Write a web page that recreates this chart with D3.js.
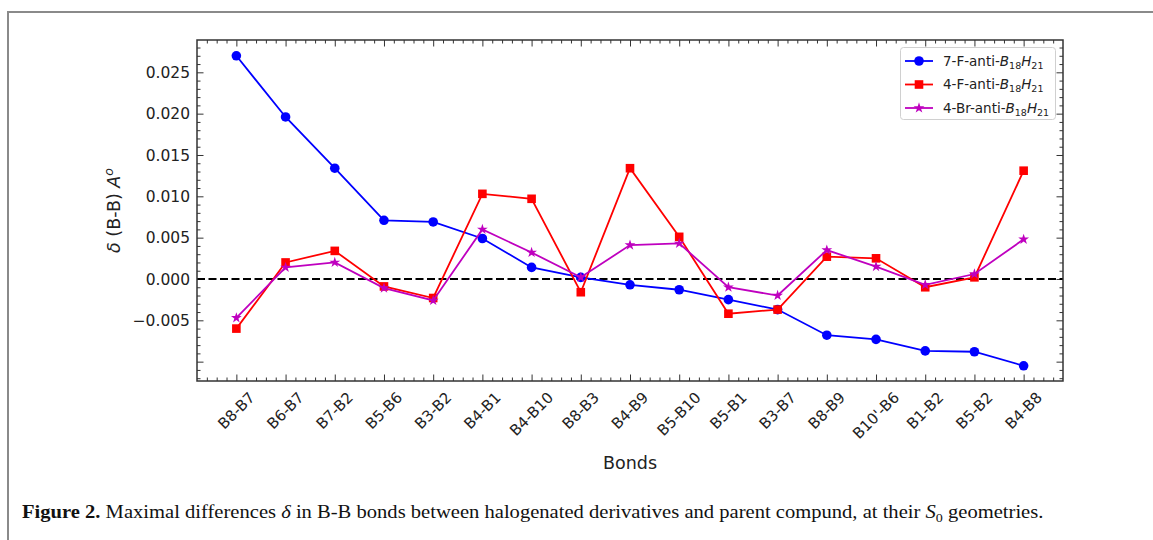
<!DOCTYPE html>
<html>
<head>
<meta charset="utf-8">
<script src="https://cdn.jsdelivr.net/npm/d3@7/dist/d3.min.js"></script>
<style>
  html, body { margin: 0; padding: 0; background: #fff; }
  svg { display: block; }
  .tick-label { font-family: "DejaVu Sans", sans-serif; fill: #222; }
</style>
</head>
<body>
<svg id="chart" width="1153" height="540"></svg>
<script>
// Bonds along the x axis
const bonds = ["B8-B7", "B6-B7", "B7-B2", "B5-B6", "B3-B2", "B4-B1", "B4-B10", "B8-B3",
  "B4-B9", "B5-B10", "B5-B1", "B3-B7", "B8-B9", "B10'-B6", "B1-B2", "B5-B2", "B4-B8"];

// δ(B-B) differences, Å
const f7Values = [0.0270, 0.0196, 0.0134, 0.0071, 0.0069, 0.0049, 0.0014, 0.0002,
  -0.0007, -0.0013, -0.0025, -0.0037, -0.0068, -0.0073, -0.0087, -0.0088, -0.0105];
const f4Values = [-0.0060, 0.0020, 0.0034, -0.0009, -0.0023, 0.0103, 0.0097, -0.0016,
  0.0134, 0.0051, -0.0042, -0.0037, 0.0027, 0.0025, -0.0010, 0.0002, 0.0131];
const br4Values = [-0.0047, 0.0014, 0.0020, -0.0011, -0.0026, 0.0060, 0.0032, 0.0002,
  0.0041, 0.0043, -0.0010, -0.0020, 0.0035, 0.0015, -0.0007, 0.0006, 0.0048];

// y tick values and their labels (the lowest major tick carries no label)
const yTicks = [-0.010, -0.005, 0.000, 0.005, 0.010, 0.015, 0.020, 0.025];
const yTickLabels = ["", "\u22120.005", "0.000", "0.005", "0.010", "0.015", "0.020", "0.025"];

const seriesNames = ["7-F-anti-", "4-F-anti-", "4-Br-anti-"];

const series = [
  { name: seriesNames[0], values: f7Values, color: "#0000ff", marker: "circle" },
  { name: seriesNames[1], values: f4Values, color: "#ff0000", marker: "square" },
  { name: seriesNames[2], values: br4Values, color: "#bf00bf", marker: "star" }
];

const svg = d3.select("#chart");
const plot = { left: 197, right: 1063, top: 40, bottom: 381 };

// outer figure frame (top and left edges)
svg.append("line").attr("x1", 8).attr("y1", 12).attr("x2", 1153).attr("y2", 12)
  .attr("stroke", "#8a8a8a").attr("stroke-width", 2);
svg.append("line").attr("x1", 8).attr("y1", 11).attr("x2", 8).attr("y2", 540)
  .attr("stroke", "#8a8a8a").attr("stroke-width", 2);

const x = d3.scaleLinear().domain([-0.8, bonds.length - 1 + 0.8]).range([plot.left, plot.right]);
const y = d3.scaleLinear().domain([-0.01234, 0.02891]).range([plot.bottom, plot.top]);

const g = svg.append("g");

// minor / major ticks pointing inward on all four sides
const xMinor = d3.range(-0.8, bonds.length - 1 + 0.8 + 1e-9, 0.2)
  .map(v => Math.round(v * 10) / 10)
  .filter(v => Math.abs(v - Math.round(v)) > 1e-6 && v > -0.8 + 1e-6 && v < 16.8 - 1e-6);
const yMinor = d3.range(-0.012, 0.0289, 0.001).map(v => Math.round(v * 1000) / 1000)
  .filter(v => Math.abs(v * 200 - Math.round(v * 200)) > 1e-6);

const tickColor = "#333";
const majorLen = 6.5, minorLen = 3.5;

function xTickAxis(values, len) {
  g.append("g").attr("transform", `translate(0,${plot.bottom})`)
    .call(d3.axisBottom(x).tickValues(values).tickSizeInner(-len).tickSizeOuter(0).tickFormat(""))
    .call(s => s.select(".domain").remove())
    .call(s => s.selectAll("line").attr("stroke", tickColor).attr("stroke-width", 1));
  g.append("g").attr("transform", `translate(0,${plot.top})`)
    .call(d3.axisTop(x).tickValues(values).tickSizeInner(-len).tickSizeOuter(0).tickFormat(""))
    .call(s => s.select(".domain").remove())
    .call(s => s.selectAll("line").attr("stroke", tickColor).attr("stroke-width", 1));
}
function yTickAxis(values, len) {
  g.append("g").attr("transform", `translate(${plot.left},0)`)
    .call(d3.axisLeft(y).tickValues(values).tickSizeInner(-len).tickSizeOuter(0).tickFormat(""))
    .call(s => s.select(".domain").remove())
    .call(s => s.selectAll("line").attr("stroke", tickColor).attr("stroke-width", 1));
  g.append("g").attr("transform", `translate(${plot.right},0)`)
    .call(d3.axisRight(y).tickValues(values).tickSizeInner(-len).tickSizeOuter(0).tickFormat(""))
    .call(s => s.select(".domain").remove())
    .call(s => s.selectAll("line").attr("stroke", tickColor).attr("stroke-width", 1));
}
xTickAxis(xMinor, minorLen);
xTickAxis(d3.range(bonds.length), majorLen);
yTickAxis(yMinor, minorLen);
yTickAxis(yTicks, majorLen);

// y tick labels
g.selectAll(".ylab").data(yTicks).join("text")
  .attr("class", "tick-label")
  .attr("x", plot.left - 7)
  .attr("y", d => y(d))
  .attr("dy", "0.36em")
  .attr("text-anchor", "end")
  .attr("font-size", 15.5)
  .text((d, i) => yTickLabels[i]);

// x tick labels rotated 45°, rotated box centred on the tick, hanging below the axis
const xFont = 15;
const xl = g.selectAll(".xlab").data(bonds).join("text")
  .attr("class", "tick-label")
  .attr("font-size", xFont)
  .attr("text-anchor", "middle")
  .attr("dominant-baseline", "central")
  .text(d => d);
xl.each(function (d, i) {
  const w = this.getComputedTextLength();
  const h = xFont * 0.75;
  const half = (w + h) / (2 * Math.SQRT2);
  d3.select(this).attr("transform",
    `translate(${x(i)},${plot.bottom + 10 + half}) rotate(-45)`);
});

// axis titles
svg.append("text")
  .attr("x", (plot.left + plot.right) / 2).attr("y", 469)
  .attr("text-anchor", "middle")
  .attr("font-family", "DejaVu Sans, sans-serif").attr("font-size", 17.5).attr("fill", "#222")
  .text("Bonds");

const yt = svg.append("text")
  .attr("transform", `translate(120,${(plot.top + plot.bottom) / 2}) rotate(-90)`)
  .attr("text-anchor", "middle")
  .attr("font-family", "DejaVu Sans, sans-serif").attr("font-size", 17.5).attr("fill", "#222");
yt.append("tspan").attr("font-style", "italic").text("δ");
yt.append("tspan").text(" (B-B) ");
yt.append("tspan").attr("font-style", "italic").text("A");
yt.append("tspan").attr("font-style", "italic").attr("font-size", 12.5).attr("dy", -7).text("o");

// zero reference line
g.append("line")
  .attr("x1", plot.left).attr("x2", plot.right)
  .attr("y1", y(0)).attr("y2", y(0))
  .attr("stroke", "#000").attr("stroke-width", 2).attr("stroke-dasharray", "8,3.5");

// markers
const star = d3.symbol().type(d3.symbolStar);
function drawMarker(sel, type, color, cx, cy) {
  if (type === "circle") {
    sel.append("circle").attr("cx", cx).attr("cy", cy).attr("r", 4.8).attr("fill", color);
  } else if (type === "square") {
    sel.append("rect").attr("x", cx - 4.3).attr("y", cy - 4.3).attr("width", 8.6).attr("height", 8.6)
      .attr("fill", color);
  } else {
    sel.append("path").attr("transform", `translate(${cx},${cy})`)
      .attr("d", star.size(36)()).attr("fill", color);
  }
}

const line = d3.line().x((d, i) => x(i)).y(d => y(d));
series.forEach(s => {
  const sg = g.append("g");
  sg.append("path").datum(s.values).attr("d", line)
    .attr("fill", "none").attr("stroke", s.color).attr("stroke-width", 1.8);
  s.values.forEach((v, i) => drawMarker(sg, s.marker, s.color, x(i), y(v)));
});

// plot frame
g.append("rect")
  .attr("x", plot.left).attr("y", plot.top)
  .attr("width", plot.right - plot.left).attr("height", plot.bottom - plot.top)
  .attr("fill", "none").attr("stroke", "#333").attr("stroke-width", 1.5);

// legend
const lg = svg.append("g");
lg.append("rect").attr("x", 900.5).attr("y", 47.5).attr("width", 155).attr("height", 72)
  .attr("rx", 3).attr("fill", "#fff").attr("fill-opacity", 0.8)
  .attr("stroke", "#d0d0d0").attr("stroke-width", 1);
series.forEach((s, i) => {
  const cy = 61 + i * 23.5;
  lg.append("line").attr("x1", 905).attr("x2", 933).attr("y1", cy).attr("y2", cy)
    .attr("stroke", s.color).attr("stroke-width", 1.8);
  drawMarker(lg, s.marker, s.color, 919, cy);
  const t = lg.append("text").attr("x", 943).attr("y", cy).attr("dy", "0.36em")
    .attr("font-family", "DejaVu Sans, sans-serif").attr("font-size", 13.5).attr("fill", "#222");
  t.append("tspan").text(s.name);
  t.append("tspan").attr("font-style", "italic").text("B");
  t.append("tspan").attr("font-size", 9.5).attr("dy", 3).text("18");
  t.append("tspan").attr("font-style", "italic").attr("dy", -3).text("H");
  t.append("tspan").attr("font-size", 9.5).attr("dy", 3).text("21");
});

// caption, stretched horizontally to span the figure width
const capX = 22, capRight = 1044;
const capG = svg.append("g");
const cap = capG.append("text").attr("x", 0).attr("y", 0)
  .attr("font-family", "Liberation Serif, serif").attr("font-size", 19).attr("fill", "#111");
cap.append("tspan").attr("font-weight", "bold").text("Figure 2.");
cap.append("tspan").text(" Maximal differences ");
cap.append("tspan").attr("font-style", "italic").text("δ");
cap.append("tspan").text(" in B-B bonds between halogenated derivatives and parent compund, at their ");
cap.append("tspan").attr("font-style", "italic").text("S");
cap.append("tspan").attr("font-size", 13).attr("dy", 4).text("0");
cap.append("tspan").attr("dy", -4).text(" geometries.");
const capW = cap.node().getBBox().width;
capG.attr("transform", `translate(${capX},518) scale(${(capRight - capX) / capW},1)`);
</script>
</body>
</html>
